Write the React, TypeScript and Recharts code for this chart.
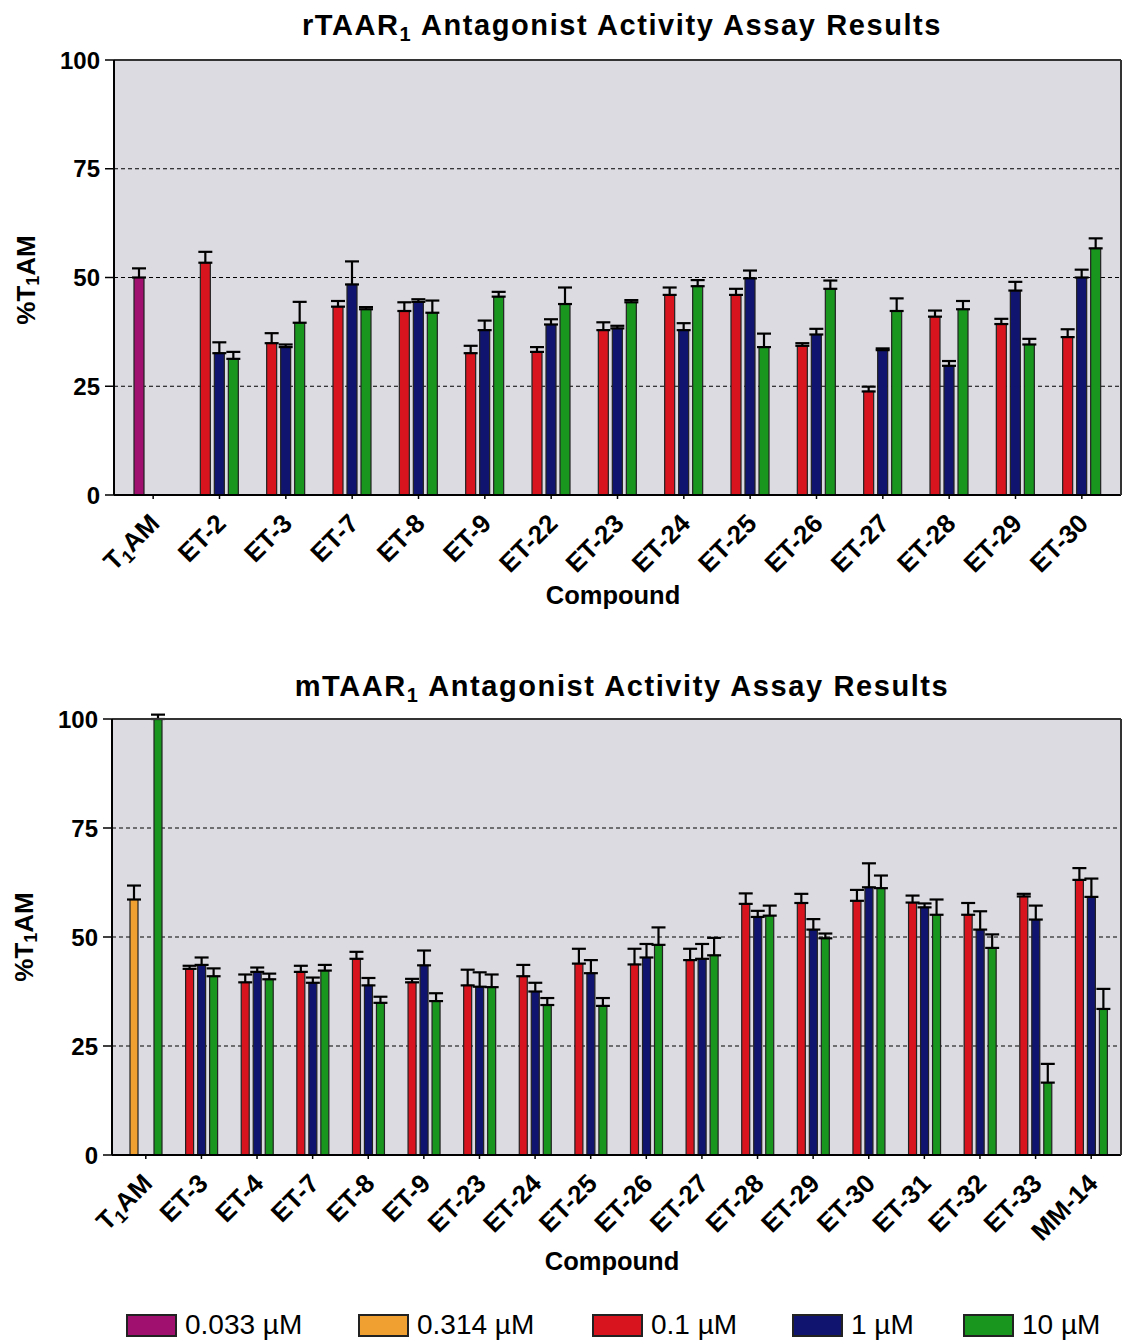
import React from 'react'
import { Bar, BarChart, CartesianGrid, Cell, ErrorBar, XAxis, YAxis } from 'recharts'

const MAGENTA = '#a0106e'
const ORANGE = '#f0a030'
const RED = '#d8141e'
const BLUE = '#10146e'
const GREEN = '#18961e'

// rTAAR1 (top chart)
const rCompounds = ['T1AM', 'ET-2', 'ET-3', 'ET-7', 'ET-8', 'ET-9', 'ET-22', 'ET-23', 'ET-24', 'ET-25', 'ET-26', 'ET-27', 'ET-28', 'ET-29', 'ET-30']
const rT1am033 = 50.0
const rT1am033Err = 2.1
const rDose01 = [null, 53.4, 34.9, 43.3, 42.3, 32.6, 32.9, 37.9, 46.0, 46.0, 34.3, 23.8, 41.0, 39.3, 36.3]
const rDose01Err = [null, 2.5, 2.3, 1.3, 2.0, 1.7, 1.1, 1.8, 1.7, 1.4, 0.6, 1.1, 1.4, 1.2, 1.8]
const rDose1 = [null, 32.6, 34.0, 48.4, 44.4, 37.9, 39.2, 38.3, 37.9, 49.8, 36.9, 33.3, 29.7, 47.0, 50.0]
const rDose1Err = [null, 2.5, 0.6, 5.3, 0.6, 2.2, 1.2, 0.6, 1.6, 1.8, 1.3, 0.4, 1.1, 2.0, 1.8]
const rDose10 = [null, 31.3, 39.6, 42.7, 41.9, 45.6, 43.9, 44.3, 48.0, 34.0, 47.4, 42.3, 42.7, 34.6, 56.7]
const rDose10Err = [null, 1.6, 4.8, 0.5, 2.8, 1.1, 3.8, 0.5, 1.4, 3.1, 1.9, 2.9, 1.9, 1.3, 2.3]

// mTAAR1 (bottom chart)
const mCompounds = ['T1AM', 'ET-3', 'ET-4', 'ET-7', 'ET-8', 'ET-9', 'ET-23', 'ET-24', 'ET-25', 'ET-26', 'ET-27', 'ET-28', 'ET-29', 'ET-30', 'ET-31', 'ET-32', 'ET-33', 'MM-14']
const mT1am314 = 58.6
const mT1am314Err = 3.2
const mDose01 = [null, 42.7, 39.6, 42.0, 45.0, 39.6, 38.9, 41.0, 43.9, 43.7, 44.7, 57.6, 57.8, 58.3, 57.9, 55.1, 59.3, 63.1]
const mDose01Err = [null, 0.7, 1.8, 1.4, 1.6, 0.8, 3.6, 2.6, 3.4, 3.6, 2.6, 2.4, 2.1, 2.5, 1.6, 2.7, 0.6, 2.7]
const mDose1 = [null, 43.6, 42.0, 39.5, 38.9, 43.5, 38.6, 37.5, 41.7, 45.3, 45.0, 54.6, 51.7, 61.4, 56.8, 51.7, 54.0, 59.2]
const mDose1Err = [null, 1.7, 1.0, 1.2, 1.7, 3.4, 3.3, 2.0, 3.0, 3.1, 3.4, 1.4, 2.4, 5.5, 0.9, 4.2, 3.2, 4.2]
const mDose10 = [100, 41.0, 40.3, 42.3, 34.9, 35.3, 38.5, 34.4, 34.2, 48.2, 45.8, 54.9, 49.7, 61.2, 55.1, 47.5, 16.6, 33.5]
const mDose10Err = [1.0, 1.8, 1.3, 1.3, 1.4, 1.8, 2.9, 1.6, 1.8, 4.0, 4.0, 2.3, 1.1, 2.9, 3.5, 3.1, 4.3, 4.6]

const yTicks = [0, 25, 50, 75, 100]
const gridValues = [25, 50, 75]

const legendItems = [
  { label: '0.033 µM', color: MAGENTA, left: 126 },
  { label: '0.314 µM', color: ORANGE, left: 358 },
  { label: '0.1 µM', color: RED, left: 592 },
  { label: '1 µM', color: BLUE, left: 792 },
  { label: '10 µM', color: GREEN, left: 963 },
]

// first slot holds 0.1 µM, or the T1AM reference dose in the T1AM row
const rRows = rCompounds.map((name, i) => ({
  name,
  a: i === 0 ? rT1am033 : rDose01[i],
  aErr: i === 0 ? rT1am033Err : rDose01Err[i],
  aColor: i === 0 ? MAGENTA : RED,
  b: rDose1[i],
  bErr: rDose1Err[i],
  c: rDose10[i],
  cErr: rDose10Err[i],
}))

const mRows = mCompounds.map((name, i) => ({
  name,
  a: i === 0 ? mT1am314 : mDose01[i],
  aErr: i === 0 ? mT1am314Err : mDose01Err[i],
  aColor: i === 0 ? ORANGE : RED,
  b: mDose1[i],
  bErr: mDose1Err[i],
  c: mDose10[i],
  cErr: mDose10Err[i],
}))

const FONT = '"Liberation Sans", Arial, sans-serif'

const errKey = (valKey: string, errKey: string) => (d: any) => (d[valKey] == null ? null : [0, d[errKey]])

const CompoundTick = (props: any) => {
  const { x, y, payload } = props
  const v: string = payload.value
  return (
    <g transform={`translate(${x + 8},${y + 24})`}>
      <text textAnchor="end" transform="rotate(-45)" fontSize={26} fontWeight="bold" fill="#000" fontFamily={FONT}>
        {v === 'T1AM' ? (
          <>
            T<tspan fontSize={18} dy={5}>1</tspan>
            <tspan dy={-5}>AM</tspan>
          </>
        ) : (
          v
        )}
      </text>
    </g>
  )
}

const AssayChart = ({ rows, yAxisWidth, top, padRight }: any) => {
  const barSize = rows.length > 15 ? 8 : 10
  return (
    <BarChart
      width={1127}
      height={620}
      data={rows}
      margin={{ top: top - 1, right: 3, left: 0, bottom: 35 }}
      barSize={barSize}
      barGap={4}
    >
      <CartesianGrid
        vertical={false}
        horizontalValues={gridValues}
        fill="#dcdbe1"
        stroke="#000"
        strokeDasharray="4 3"
        strokeWidth={1.2}
      />
      <XAxis
        dataKey="name"
        height={90}
        padding={{ left: 6, right: padRight }}
        tick={<CompoundTick />}
        tickLine={{ stroke: '#000', strokeWidth: 1.5 }}
        tickSize={4}
        axisLine={{ stroke: '#000', strokeWidth: 2 }}
        interval={0}
      />
      <XAxis
        xAxisId="frame"
        orientation="top"
        dataKey="name"
        height={1}
        tick={false}
        tickLine={false}
        axisLine={{ stroke: '#333', strokeWidth: 2 }}
      />
      <YAxis
        width={yAxisWidth}
        domain={[0, 100]}
        ticks={yTicks}
        allowDataOverflow
        tick={{ fontSize: 24, fontWeight: 'bold', fill: '#000', fontFamily: FONT }}
        tickLine={{ stroke: '#000', strokeWidth: 1.5 }}
        tickSize={9}
        tickMargin={5}
        axisLine={{ stroke: '#000', strokeWidth: 2 }}
      />
      <YAxis
        yAxisId="frame"
        orientation="right"
        width={3}
        domain={[0, 100]}
        tick={false}
        tickLine={false}
        axisLine={{ stroke: '#333', strokeWidth: 2 }}
      />
      <Bar dataKey="a" stroke="#222" strokeWidth={1.2} isAnimationActive={false}>
        {rows.map((r: any, i: number) => (
          <Cell key={i} fill={r.aColor} />
        ))}
        <ErrorBar dataKey={errKey('a', 'aErr')} width={7} stroke="#000" strokeWidth={2.2} />
      </Bar>
      <Bar dataKey="b" fill={BLUE} stroke="#222" strokeWidth={1.2} isAnimationActive={false}>
        <ErrorBar dataKey={errKey('b', 'bErr')} width={7} stroke="#000" strokeWidth={2.2} />
      </Bar>
      <Bar dataKey="c" fill={GREEN} stroke="#222" strokeWidth={1.2} isAnimationActive={false}>
        <ErrorBar dataKey={errKey('c', 'cErr')} width={7} stroke="#000" strokeWidth={2.2} />
      </Bar>
    </BarChart>
  )
}

const textBase: React.CSSProperties = {
  position: 'absolute',
  fontFamily: FONT,
  fontWeight: 'bold',
  color: '#000',
  whiteSpace: 'nowrap',
  transform: 'translate(-50%, -50%)',
  lineHeight: 1,
}

const Title = ({ prefix, x, y }: any) => (
  <div style={{ ...textBase, left: x, top: y, fontSize: 29, letterSpacing: 1.6 }}>
    {prefix}TAAR<sub style={{ fontSize: 20, verticalAlign: -6 }}>1</sub> Antagonist Activity Assay Results
  </div>
)

const YTitle = ({ x, y }: any) => (
  <div style={{ ...textBase, left: x, top: y, fontSize: 26, transform: 'translate(-50%, -50%) rotate(-90deg)' }}>
    %T<sub style={{ fontSize: 18, verticalAlign: -4 }}>1</sub>AM
  </div>
)

const XTitle = ({ x, y }: any) => <div style={{ ...textBase, left: x, top: y, fontSize: 25.5 }}>Compound</div>

export default function App() {
  return (
    <div style={{ position: 'absolute', left: 0, top: 0, width: 1127, height: 1344, background: '#fff' }}>
      <div style={{ position: 'absolute', left: 0, top: 0 }}>
        <AssayChart rows={rRows} yAxisWidth={114} top={60} padRight={6} />
      </div>
      <div style={{ position: 'absolute', left: 0, top: 660 }}>
        <AssayChart rows={mRows} yAxisWidth={112} top={59} padRight={2} />
      </div>
      <Title prefix="r" x={622} y={27} />
      <Title prefix="m" x={622} y={688} />
      <YTitle x={27} y={280} />
      <YTitle x={25} y={937} />
      <XTitle x={613} y={596} />
      <XTitle x={612} y={1262} />
      {legendItems.map((it) => (
        <div
          key={it.label}
          style={{ position: 'absolute', left: it.left, top: 1313, display: 'flex', alignItems: 'center', height: 24 }}
        >
          <div style={{ width: 47, height: 19, background: it.color, border: '2px solid #222' }} />
          <span style={{ marginLeft: 8, fontFamily: FONT, fontSize: 28, color: '#000', lineHeight: 1 }}>{it.label}</span>
        </div>
      ))}
    </div>
  )
}
